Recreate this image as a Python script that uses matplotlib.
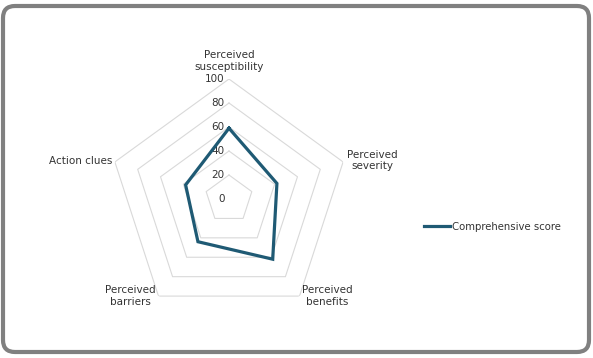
import numpy as np
import matplotlib
matplotlib.use("Agg")
import matplotlib.pyplot as plt
from matplotlib.patches import FancyBboxPatch

categories = ["Perceived\nsusceptibility", "Perceived\nseverity", "Perceived\nbenefits",
              "Perceived\nbarriers", "Action clues"]
scores = [59, 42, 62, 44, 38]
series_name = "Comprehensive score"
ring_values = [20, 40, 60, 80, 100]
tick_labels = ["0", "20", "40", "60", "80", "100"]

line_color = "#1f5a74"
grid_color = "#d9d9d9"
text_color = "#333333"

plt.rcParams['font.family'] = ['DejaVu Sans']
fig = plt.figure(figsize=(5.93, 3.58), dpi=100)

ax = fig.add_axes([0.1838, 0.1089, 0.4047, 0.6704], projection='polar')
ax.set_theta_offset(np.pi / 2)
ax.set_theta_direction(-1)
ax.set_ylim(0, 100)
ax.grid(False)
ax.spines['polar'].set_visible(False)
ax.set_xticks([])
ax.set_yticks([])
ax.patch.set_alpha(0)

n = len(categories)
angles = np.linspace(0, 2 * np.pi, n, endpoint=False)
closed = np.append(angles, angles[0])

# pentagon grid
for r in ring_values:
    ax.plot(closed, [r] * (n + 1), color=grid_color, lw=0.8, zorder=1)

# radial tick labels next to the top axis
for i, lab in enumerate(tick_labels):
    v = i * 20
    ax.annotate(lab, xy=(0, v), xytext=(-3, 0), textcoords='offset points',
                ha='right', va='center', fontsize=7.5, color=text_color,
                annotation_clip=False, zorder=3)

vals = scores + [scores[0]]
line, = ax.plot(closed, vals, color=line_color, lw=2.3, zorder=4,
                solid_joinstyle='miter')

# category labels
align = [("center", "bottom"), ("left", "center"), ("left", "center"),
         ("right", "center"), ("right", "center")]
offsets = [(0, 5), (3, 1), (2, 0), (-2, 0), (-2, 1)]
for a, lab, (ha, va), off in zip(angles, categories, align, offsets):
    ax.annotate(lab, xy=(a, 100), xytext=off, textcoords='offset points',
                ha=ha, va=va, multialignment='center', fontsize=7.5,
                color=text_color, annotation_clip=False)

fig.legend([line], [series_name], loc='center left',
           bbox_to_anchor=(0.699, 0.366), frameon=False, fontsize=7.3,
           handlelength=2.6, handletextpad=0.2, labelcolor=text_color)

border = FancyBboxPatch((3, 6), 586, 346, boxstyle="round,pad=0,rounding_size=12",
                        transform=None, fill=False, edgecolor="#808080", lw=3)
fig.patches.append(border)

fig.savefig("out.png", dpi=100)
